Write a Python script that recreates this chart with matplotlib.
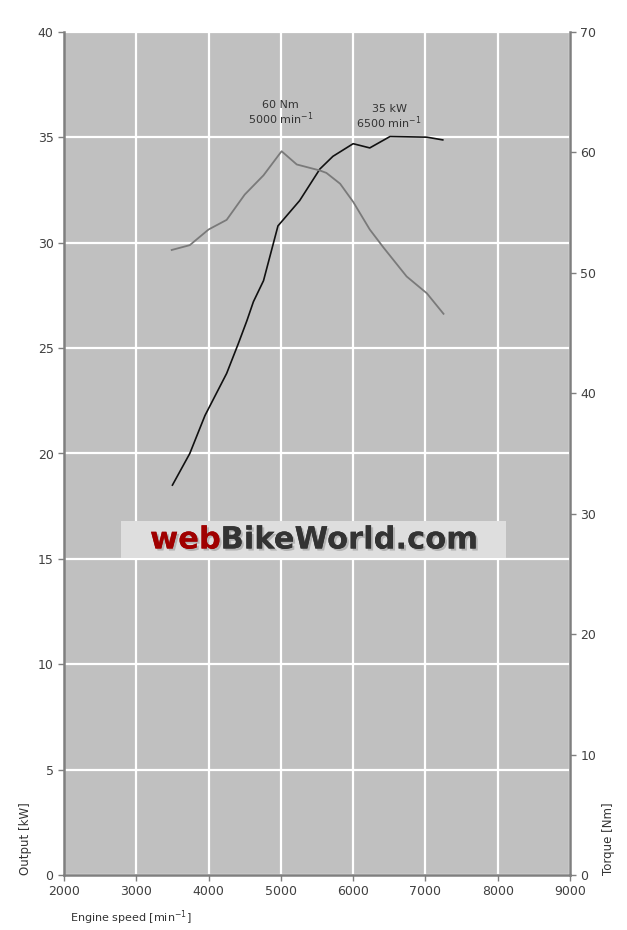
# Engine power / torque curve chart

import matplotlib.pyplot as plt
import matplotlib.patheffects as pe

# power curve (kW)
power_rpm = [3500, 3740, 3950, 4250, 4410, 4530, 4620, 4760, 4960, 5060, 5260, 5540, 5720, 6000, 6230, 6510, 7020, 7240]
power_kw  = [18.5, 20.0, 21.8, 23.8, 25.2, 26.3, 27.2, 28.2, 30.8, 31.2, 32.0, 33.5, 34.1, 34.7, 34.5, 35.04, 35.01, 34.88]

# torque curve (Nm)
torque_rpm = [3490, 3740, 4000, 4250, 4500, 4760, 5010, 5220, 5540, 5630, 5820, 6000, 6230, 6420, 6740, 7020, 7250]
torque_nm  = [51.9, 52.3, 53.6, 54.4, 56.5, 58.1, 60.1, 59.0, 58.5, 58.3, 57.4, 55.9, 53.6, 52.1, 49.7, 48.3, 46.6]

x_ticks = [2000, 3000, 4000, 5000, 6000, 7000, 8000, 9000]
kw_ticks = [0, 5, 10, 15, 20, 25, 30, 35, 40]
nm_ticks = [0, 10, 20, 30, 40, 50, 60, 70]

fig = plt.figure(figsize=(6.27, 9.3), dpi=100)
ax = fig.add_axes([64/627, 55/930, 506/627, 843/930])
ax2 = ax.twinx()

ax.set_facecolor('#c0c0c0')
ax.set_xlim(2000, 9000)
ax.set_ylim(0, 40)
ax2.set_ylim(0, 70)
ax.set_xticks(x_ticks)
ax.set_yticks(kw_ticks)
ax2.set_yticks(nm_ticks)
ax.grid(True, color='white', linewidth=1.6)
ax.set_axisbelow(True)

ax.plot(power_rpm, power_kw, color='#111111', linewidth=1.2, zorder=3, solid_joinstyle='round')
ax2.plot(torque_rpm, torque_nm, color='#7a7a7a', linewidth=1.3, zorder=3, solid_joinstyle='round')

for a in (ax, ax2):
    a.spines['top'].set_visible(False)
    for s in ('left', 'right', 'bottom'):
        a.spines[s].set_color('#7f7f7f')
        a.spines[s].set_linewidth(1.8)
    a.tick_params(colors='#7f7f7f', labelcolor='#404040', labelsize=9, length=4, width=1)
ax.spines['right'].set_visible(False)
ax2.spines['left'].set_visible(False)
ax2.spines['bottom'].set_visible(False)

ax.set_ylabel('Output [kW]', fontsize=8.5, color='#333333', loc='bottom', labelpad=4)
ax2.set_ylabel('Torque [Nm]', fontsize=8.5, color='#333333', loc='bottom', labelpad=4)
fig.text(70/627, 1 - 918/930, 'Engine speed [min$^{-1}$]', fontsize=8, color='#333333', va='center', ha='left')

ax.text(5000, 35.5, '60 Nm\n5000 min$^{-1}$', ha='center', va='bottom', fontsize=8, color='#333333', linespacing=1.0)
ax.text(6500, 35.3, '35 kW\n6500 min$^{-1}$', ha='center', va='bottom', fontsize=8, color='#333333', linespacing=1.0)

# watermark
fig.patches.append(plt.Rectangle((121/627, 1 - 558/930), 385/627, 37/930, transform=fig.transFigure,
                                 facecolor='#dedede', edgecolor='none', zorder=5))
shadow = [pe.withSimplePatchShadow(offset=(1.5, -1.5), shadow_rgbFace='#999999', alpha=0.6), pe.Normal()]
wm1 = fig.text(150/627, 1 - 540/930, 'web', fontsize=22, fontweight='bold', color='#a00000',
               va='center', ha='left', zorder=6, path_effects=shadow)
fig.canvas.draw()
bb = wm1.get_window_extent()
fig.text(bb.x1 / fig.bbox.width, 1 - 540/930, 'BikeWorld.com', fontsize=22, fontweight='bold', color='#333333',
         va='center', ha='left', zorder=6, path_effects=shadow)

plt.savefig('out.png', dpi=100)
